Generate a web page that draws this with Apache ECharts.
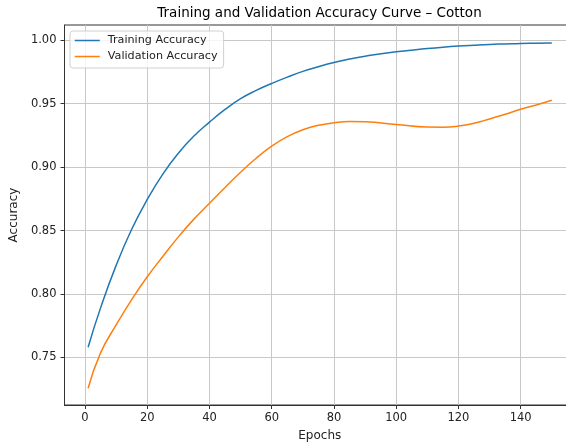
<!DOCTYPE html>
<html>
<head>
<meta charset="utf-8">
<script src="https://cdn.jsdelivr.net/npm/echarts@6/dist/echarts.min.js"></script>
<style>
  html, body { margin: 0; padding: 0; background: #fff; }
  #chart { width: 566px; height: 446px; }
</style>
</head>
<body>
<div id="chart"></div>
<script>
// values
const epochs = [1, 5, 10, 15, 20, 25, 30, 35, 40, 45, 50, 55, 60, 65, 70, 75, 80, 85, 90, 100, 110, 115, 120, 125, 130, 135, 140, 145, 150]
const trainAcc = [0.758, 0.789, 0.8225, 0.851, 0.8745, 0.8945, 0.911, 0.9245, 0.9355, 0.9455, 0.954, 0.9605, 0.966, 0.971, 0.9755, 0.9792, 0.9825, 0.9852, 0.9875, 0.991, 0.9935, 0.9946, 0.9955, 0.9962, 0.9968, 0.9972, 0.9976, 0.9978, 0.998]
const valAcc = [0.7256, 0.7535, 0.7755, 0.7955, 0.8135, 0.8295, 0.845, 0.859, 0.8715, 0.884, 0.896, 0.907, 0.9165, 0.924, 0.9295, 0.933, 0.935, 0.936, 0.9357, 0.9337, 0.9316, 0.9315, 0.9324, 0.9346, 0.938, 0.9417, 0.9456, 0.949, 0.9527]
const xTicks = [0, 20, 40, 60, 80, 100, 120, 140]
const yTicks = [0.75, 0.80, 0.85, 0.90, 0.95, 1.00]

const pairs = (ys) => epochs.map((e, i) => [e, ys[i]])

const font = 'DejaVu Sans, sans-serif'
const chart = echarts.init(document.getElementById('chart'))

chart.setOption({
  animation: false,
  graphic: [{
    type: 'text',
    x: 319.5,
    y: 13,
    style: {
      text: 'Training and Validation Accuracy Curve – Cotton',
      fontFamily: font,
      fontSize: 13.5,
      fill: '#000',
      textAlign: 'center',
      textVerticalAlign: 'middle'
    }
  }],
  grid: {
    left: 64.5,
    top: 25,
    width: 510.5,
    height: 380,
    outerBoundsMode: 'none',
    show: true,
    borderColor: '#333',
    borderWidth: 1
  },
  legend: {
    orient: 'vertical',
    left: 70,
    top: 31,
    padding: [4, 6, 6, 4],
    itemGap: 5,
    itemWidth: 25,
    itemHeight: 12,
    borderColor: '#d0d0d0',
    borderWidth: 1,
    borderRadius: 3,
    backgroundColor: 'rgba(255,255,255,0.8)',
    itemStyle: { opacity: 0 },
    lineStyle: { width: 1.5 },
    textStyle: { fontFamily: font, fontSize: 11.2, color: '#222', padding: [0, 0, 0, 3] },
    data: ['Training Accuracy', 'Validation Accuracy']
  },
  xAxis: {
    type: 'value',
    min: -6.59,
    max: 157.45,
    name: 'Epochs',
    nameLocation: 'middle',
    nameGap: 25,
    nameTextStyle: { fontFamily: font, fontSize: 12, color: '#222' },
    axisLine: { show: true, onZero: false, lineStyle: { color: '#333', width: 1 } },
    axisTick: { show: true, length: 4, customValues: xTicks, lineStyle: { color: '#333' } },
    axisLabel: { customValues: xTicks, margin: 7, fontFamily: font, fontSize: 11.5, color: '#222' },
    splitLine: { show: true, lineStyle: { color: '#c8c8c8', width: 1 } }
  },
  yAxis: {
    type: 'value',
    min: 0.7124,
    max: 1.0121,
    name: 'Accuracy',
    nameLocation: 'middle',
    nameRotate: 90,
    nameGap: 35,
    nameTextStyle: { fontFamily: font, fontSize: 12, color: '#222' },
    axisLine: { show: true, onZero: false, lineStyle: { color: '#333', width: 1 } },
    axisTick: { show: true, length: 4, customValues: yTicks, lineStyle: { color: '#333' } },
    axisLabel: {
      customValues: yTicks,
      margin: 8,
      fontFamily: font,
      fontSize: 11.5,
      color: '#222',
      formatter: (v) => v.toFixed(2)
    },
    splitLine: { show: true, lineStyle: { color: '#c8c8c8', width: 1 } }
  },
  series: [
    {
      name: 'Training Accuracy',
      type: 'line',
      data: pairs(trainAcc),
      smooth: 0.5,
      symbol: 'none',
      lineStyle: { color: '#1f77b4', width: 1.5 },
      itemStyle: { color: '#1f77b4' }
    },
    {
      name: 'Validation Accuracy',
      type: 'line',
      data: pairs(valAcc),
      smooth: 0.5,
      symbol: 'none',
      lineStyle: { color: '#ff7f0e', width: 1.5 },
      itemStyle: { color: '#ff7f0e' }
    }
  ]
})
</script>
</body>
</html>
